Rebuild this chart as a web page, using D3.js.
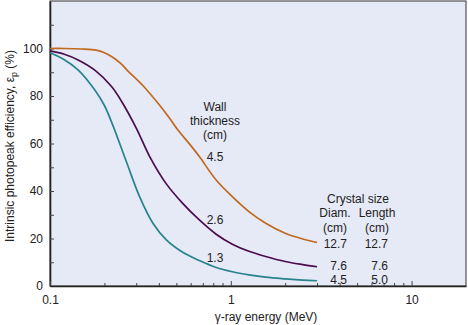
<!DOCTYPE html>
<html>
<head>
<meta charset="utf-8">
<script src="https://cdn.jsdelivr.net/npm/d3@7"></script>
<style>
  body { margin: 0; background: #fff; }
  svg { display: block; font-family: "Liberation Sans", Arial, sans-serif; }
  .tick text { font-size: 12px; fill: #222; }
  .lbl { font-size: 12px; fill: #222; }
</style>
</head>
<body>
<svg id="chart"></svg>
<script>
// photopeak efficiency vs gamma energy, three NaI crystal sizes
var energyThick = [0.1, 0.12, 0.15, 0.18, 0.2, 0.22, 0.245, 0.27, 0.33, 0.4, 0.46, 0.51, 0.6, 0.67, 0.83, 1.02, 1.26, 1.56, 2.0, 2.5, 3.0];
var effThick = [100, 100, 99.8, 99.3, 98.2, 96.5, 93.8, 90.5, 84, 76.5, 70.5, 65.7, 59.2, 54.5, 44.6, 37.6, 31.3, 26.4, 22.2, 19.8, 18.3];

var energyMid = [0.1, 0.12, 0.143, 0.177, 0.219, 0.25, 0.3, 0.356, 0.44, 0.542, 0.67, 0.83, 1.02, 1.26, 1.56, 2.0, 2.5, 3.0];
var effMid = [99, 97.6, 95.2, 90.9, 84, 77.5, 66.5, 54.5, 43, 34.8, 27.8, 21.8, 17.6, 14.6, 12.4, 10.3, 9, 8.1];

var energyThin = [0.1, 0.12, 0.143, 0.177, 0.2, 0.223, 0.264, 0.313, 0.371, 0.44, 0.542, 0.67, 0.83, 1.02, 1.26, 1.56, 2.0, 2.5, 3.0];
var effThin = [98.2, 95.3, 91, 82.5, 76, 67.5, 52.5, 37.6, 26.4, 19.4, 14.2, 10.7, 7.8, 6, 4.7, 3.7, 3, 2.5, 2.2];

var wallThickness = ["4.5", "2.6", "1.3"];
var crystalDiam = ["12.7", "7.6", "4.5"];
var crystalLength = ["12.7", "7.6", "5.0"];
var curveColors = ["#c1691d", "#4a0c4c", "#26848a"];

var yMajor = [0, 20, 40, 60, 80, 100];
var xMajor = [0.1, 1, 10];

var screen = { width: 468, height: 325 };
var margins = { top: 1, bottom: 39, left: 50, right: 2 };
var graph = {
  width: screen.width - margins.left - margins.right,
  height: screen.height - margins.top - margins.bottom
};

var svg = d3.select("#chart").attr("width", screen.width).attr("height", screen.height);

var xScale = d3.scaleLog().domain([0.1, 20]).range([0, graph.width]);
var yScale = d3.scaleLinear().domain([0, 120]).range([graph.height, 0]);

var g = svg.append("g")
  .attr("transform", "translate(" + margins.left + "," + margins.top + ")");

// plot background + frame
g.append("rect")
  .attr("width", graph.width)
  .attr("height", graph.height)
  .attr("fill", "#e6e9f6")
  .attr("stroke", "#333")
  .attr("stroke-width", 1);

// y axis: ticks every 10 pointing inward, labels on every 20
var yAxis = d3.axisLeft(yScale)
  .tickValues(d3.range(0, 120, 10))
  .tickSizeInner(-4)
  .tickSizeOuter(0)
  .tickPadding(7)
  .tickFormat(function (d) { return yMajor.indexOf(d) >= 0 ? d : ""; });
var yG = g.append("g").call(yAxis);
yG.select(".domain").attr("stroke", "#222").attr("stroke-width", 1.6);
yG.selectAll(".tick line").attr("stroke", "#444");

// x axis: log decades, minor ticks shorter
var minorVals = [];
[0.1, 1, 10].forEach(function (dec) {
  for (var i = 2; i <= 9; i++) {
    if (dec * i < 20) minorVals.push(dec * i);
  }
});
var xMinor = d3.axisBottom(xScale)
  .tickValues(minorVals)
  .tickSizeInner(-3)
  .tickSizeOuter(0)
  .tickFormat("");
var xMinorG = g.append("g")
  .attr("transform", "translate(0," + graph.height + ")")
  .call(xMinor);
xMinorG.select(".domain").remove();
xMinorG.selectAll(".tick line").attr("stroke", "#444");

var xAxis = d3.axisBottom(xScale)
  .tickValues(xMajor)
  .tickSizeInner(-5)
  .tickSizeOuter(0)
  .tickPadding(9)
  .tickFormat(function (d) { return d; });
var xG = g.append("g")
  .attr("transform", "translate(0," + graph.height + ")")
  .call(xAxis);
xG.select(".domain").attr("stroke", "#222").attr("stroke-width", 1.6);
xG.selectAll(".tick line").attr("stroke", "#444");

// curves
var series = [
  { e: energyThick, v: effThick },
  { e: energyMid, v: effMid },
  { e: energyThin, v: effThin }
];
var line = d3.line()
  .x(function (d) { return xScale(d[0]); })
  .y(function (d) { return yScale(d[1]); })
  .curve(d3.curveCatmullRom.alpha(0.5));

series.forEach(function (s, i) {
  var pts = s.e.map(function (e, j) { return [e, s.v[j]]; });
  g.append("path")
    .datum(pts)
    .attr("d", line)
    .attr("fill", "none")
    .attr("stroke", curveColors[i])
    .attr("stroke-width", 1.7);
});

// wall thickness annotations
var labels = svg.append("g").classed("labels", true);
var wallX = 215;
["Wall", "thickness", "(cm)"].forEach(function (t, i) {
  labels.append("text").classed("lbl", true)
    .attr("text-anchor", "middle")
    .attr("x", wallX).attr("y", 111 + i * 14)
    .text(t);
});
var wallY = [161, 223.5, 262];
wallThickness.forEach(function (t, i) {
  labels.append("text").classed("lbl", true)
    .attr("text-anchor", "middle")
    .attr("x", wallX).attr("y", wallY[i])
    .text(t);
});

// crystal size table
labels.append("text").classed("lbl", true)
  .attr("text-anchor", "middle")
  .attr("x", 358).attr("y", 202.5)
  .text("Crystal size");
[["Diam.", 335], ["Length", 377]].forEach(function (h) {
  labels.append("text").classed("lbl", true)
    .attr("text-anchor", "middle")
    .attr("x", h[1]).attr("y", 217)
    .text(h[0]);
  labels.append("text").classed("lbl", true)
    .attr("text-anchor", "middle")
    .attr("x", h[1]).attr("y", 231.5)
    .text("(cm)");
});
var rowY = [248, 270, 283.5];
crystalDiam.forEach(function (t, i) {
  labels.append("text").classed("lbl", true)
    .attr("text-anchor", "end")
    .attr("x", 347).attr("y", rowY[i])
    .text(t);
  labels.append("text").classed("lbl", true)
    .attr("text-anchor", "end")
    .attr("x", 388).attr("y", rowY[i])
    .text(crystalLength[i]);
});

// axis titles
labels.append("text").classed("lbl", true)
  .attr("text-anchor", "middle")
  .attr("x", 266).attr("y", 321)
  .text("\u03b3-ray energy (MeV)");

var yTitle = labels.append("text").classed("lbl", true)
  .attr("text-anchor", "middle")
  .attr("transform", "translate(14," + 146 + ") rotate(-90)");
yTitle.append("tspan").text("Intrinsic photopeak efficiency, \u03b5");
yTitle.append("tspan").attr("dy", 3).attr("font-size", "9px").text("p");
yTitle.append("tspan").attr("dy", -3).text(" (%)");
</script>
</body>
</html>
